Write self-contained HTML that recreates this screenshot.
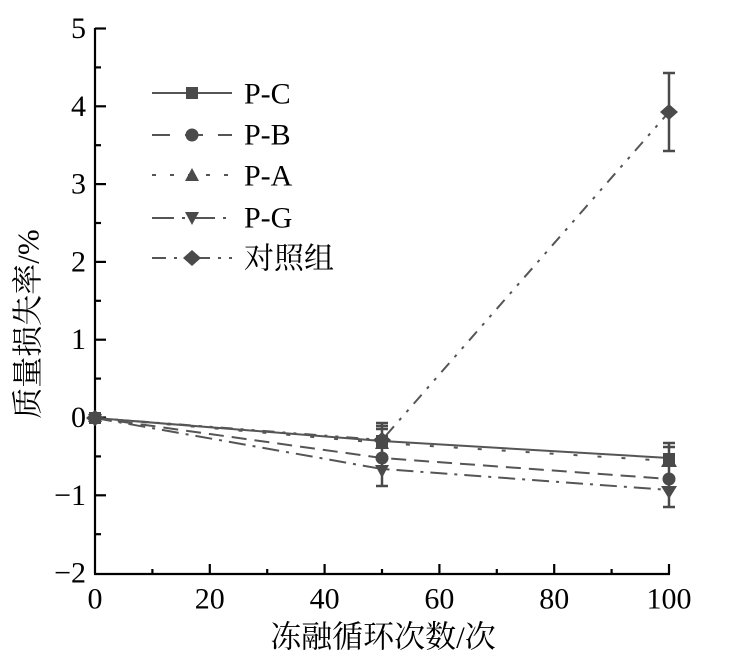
<!DOCTYPE html>
<html><head><meta charset="utf-8"><style>
html,body{margin:0;padding:0;background:#fff;}
svg{display:block;}
.num{font-family:"Liberation Serif",serif;font-size:30px;fill:#000;}
.cjk{font-family:"Liberation Serif","Noto Serif CJK SC",serif;font-size:31px;fill:#000;}
.leg{font-family:"Liberation Serif","Noto Serif CJK SC",serif;font-size:30px;fill:#000;}
</style></head><body>
<svg width="752" height="666" viewBox="0 0 752 666" xmlns="http://www.w3.org/2000/svg">
<!-- axes -->
<g stroke="#000" stroke-width="2.2" fill="none">
<line x1="95" y1="28" x2="95" y2="574"/>
<line x1="94" y1="574" x2="670" y2="574"/>
<!-- y ticks major -->
<line x1="95" y1="28.5" x2="106" y2="28.5"/>
<line x1="95" y1="106.3" x2="106" y2="106.3"/>
<line x1="95" y1="184.1" x2="106" y2="184.1"/>
<line x1="95" y1="261.9" x2="106" y2="261.9"/>
<line x1="95" y1="339.7" x2="106" y2="339.7"/>
<line x1="95" y1="417.5" x2="106" y2="417.5"/>
<line x1="95" y1="495.3" x2="106" y2="495.3"/>
<!-- y ticks minor -->
<line x1="95" y1="67.4" x2="101" y2="67.4"/>
<line x1="95" y1="145.2" x2="101" y2="145.2"/>
<line x1="95" y1="223" x2="101" y2="223"/>
<line x1="95" y1="300.8" x2="101" y2="300.8"/>
<line x1="95" y1="378.6" x2="101" y2="378.6"/>
<line x1="95" y1="456.4" x2="101" y2="456.4"/>
<line x1="95" y1="534.2" x2="101" y2="534.2"/>
<!-- x ticks major -->
<line x1="209.8" y1="574" x2="209.8" y2="564"/>
<line x1="324.6" y1="574" x2="324.6" y2="564"/>
<line x1="439.4" y1="574" x2="439.4" y2="564"/>
<line x1="554.2" y1="574" x2="554.2" y2="564"/>
<line x1="669" y1="574" x2="669" y2="564"/>
<!-- x ticks minor -->
<line x1="152.4" y1="574" x2="152.4" y2="569"/>
<line x1="267.2" y1="574" x2="267.2" y2="569"/>
<line x1="382" y1="574" x2="382" y2="569"/>
<line x1="496.8" y1="574" x2="496.8" y2="569"/>
<line x1="611.6" y1="574" x2="611.6" y2="569"/>
</g>
<!-- y tick labels -->
<g class="num" text-anchor="end" dominant-baseline="central">
<text x="86" y="28.5">5</text>
<text x="86" y="106.3">4</text>
<text x="86" y="184.1">3</text>
<text x="86" y="261.9">2</text>
<text x="86" y="339.7">1</text>
<text x="86" y="417.5">0</text>
<text x="86" y="495.3">−1</text>
<text x="86" y="573">−2</text>
</g>
<!-- x tick labels -->
<g class="num" text-anchor="middle" dominant-baseline="central">
<text x="95" y="599">0</text>
<text x="209.8" y="599">20</text>
<text x="324.6" y="599">40</text>
<text x="439.4" y="599">60</text>
<text x="554.2" y="599">80</text>
<text x="669" y="599">100</text>
</g>
<!-- axis titles -->
<text class="cjk" x="383" y="637" text-anchor="middle" dominant-baseline="central">冻融循环次数/次</text>
<text class="cjk" x="0" y="0" text-anchor="middle" dominant-baseline="central" transform="translate(28,324) rotate(-90)">质量损失率/%</text>

<!-- series lines -->
<g fill="none" stroke="#555" stroke-width="2">
<polyline points="95,418 382,441 669,458"/>
<polyline points="95,418 382,458 669,479" stroke-dasharray="15 8"/>
<polyline points="95,418 382,443 669,461" stroke-dasharray="4 20"/>
<polyline points="95,418 382,469 669,490" stroke-dasharray="17 7 3 7"/>
<polyline points="95,418 382,440 669,112" stroke-dasharray="12 8 3 8 3 8"/>
</g>
<!-- error bars -->
<g stroke="#4a4a4a" stroke-width="2.5" fill="none">
<line x1="382" y1="423" x2="382" y2="486"/>
<line x1="376" y1="423" x2="388" y2="423"/>
<line x1="376" y1="426" x2="388" y2="426"/>
<line x1="376" y1="429" x2="388" y2="429"/>
<line x1="376" y1="486" x2="388" y2="486"/>
<line x1="669" y1="443" x2="669" y2="507"/>
<line x1="663" y1="443" x2="675" y2="443"/>
<line x1="663" y1="447" x2="675" y2="447"/>
<line x1="663" y1="507" x2="675" y2="507"/>
<line x1="669" y1="73" x2="669" y2="151"/>
<line x1="663" y1="73" x2="675" y2="73"/>
<line x1="663" y1="151" x2="675" y2="151"/>
</g>
<!-- markers -->
<g fill="#4a4a4a">
<!-- x=0 -->
<rect x="89" y="412" width="12" height="12"/>
<circle cx="95" cy="418" r="6.5"/>
<polygon points="95,410 102,422 88,422"/>
<polygon points="95,426 102,414 88,414"/>
<polygon points="95,410 104,418 95,426 86,418"/>
<!-- x=50 -->
<rect x="376" y="435" width="12" height="12"/>
<polygon points="382,435 389,449 375,449"/>
<circle cx="382" cy="458" r="6.5"/>
<polygon points="382,478 389,465 375,465"/>
<polygon points="382,432 391,440 382,448 373,440"/>
<!-- x=100 -->
<rect x="663" y="453" width="12" height="12"/>
<polygon points="669,453 677,467 661,467"/>
<circle cx="669" cy="479" r="6.5"/>
<polygon points="669,499 677,486 661,486"/>
<polygon points="669,104 678,112 669,120 660,112"/>
</g>

<!-- legend -->
<g fill="none" stroke="#555" stroke-width="2">
<line x1="152" y1="93" x2="232" y2="93"/>
<line x1="152" y1="135" x2="232" y2="135" stroke-dasharray="18 15"/>
<line x1="152" y1="175" x2="232" y2="175" stroke-dasharray="4 14"/>
<line x1="152" y1="218" x2="232" y2="218" stroke-dasharray="22 8 3 8"/>
<line x1="152" y1="258" x2="232" y2="258" stroke-dasharray="14 8 3 8 3 8"/>
</g>
<g fill="#4a4a4a">
<rect x="186" y="87" width="12" height="12"/>
<circle cx="192" cy="135" r="6.5"/>
<polygon points="192,168 199,181 185,181"/>
<polygon points="192,225 199,212 185,212"/>
<polygon points="192,250 201,258 192,266 183,258"/>
</g>
<g class="leg" dominant-baseline="central">
<text x="244" y="94">P-C</text>
<text x="244" y="135">P-B</text>
<text x="244" y="176">P-A</text>
<text x="244" y="218">P-G</text>
<text x="244" y="259">对照组</text>
</g>
</svg>
</body></html>
